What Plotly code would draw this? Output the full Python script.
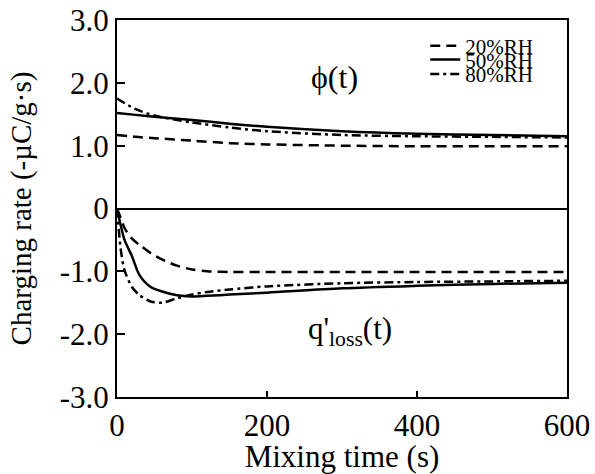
import plotly.graph_objects as go

# ---- data ----
t_phi = [0, 25, 50, 100, 150, 200, 300, 400, 500, 600]
phi_20 = [1.17, 1.14, 1.12, 1.08, 1.04, 1.02, 1.00, 0.99, 0.99, 0.99]
phi_50 = [1.52, 1.49, 1.46, 1.41, 1.35, 1.30, 1.23, 1.19, 1.17, 1.15]
phi_80 = [1.75, 1.58, 1.48, 1.37, 1.29, 1.23, 1.17, 1.15, 1.14, 1.13]

t_q = [0, 5, 10, 20, 30, 45, 60, 80, 100, 120, 150, 200, 300, 400, 500, 600]
q_20 = [0, -0.15, -0.31, -0.48, -0.58, -0.71, -0.81, -0.91, -0.97, -1.00, -1.01, -1.01, -1.01, -1.01, -1.01, -1.01]
q_50 = [0, -0.27, -0.50, -0.76, -1.06, -1.25, -1.32, -1.38, -1.40, -1.39, -1.37, -1.34, -1.27, -1.23, -1.20, -1.18]
q_80 = [0, -0.65, -0.98, -1.25, -1.38, -1.48, -1.50, -1.43, -1.37, -1.33, -1.29, -1.24, -1.19, -1.17, -1.16, -1.15]

series_names = ["20%RH", "50%RH", "80%RH"]
x_ticks = [0, 200, 400, 600]
x_ticktext = ["0", "200", "400", "600"]
y_ticks = [-3, -2, -1, 0, 1, 2, 3]
y_ticktext = ["-3.0", "-2.0", "-1.0", "0", "1.0", "2.0", "3.0"]

FONT = "Liberation Serif"
dashes = ["10px,6px", "solid", "9px,4px,3px,4px"]
legends = ["legend", "legend2", "legend3"]

fig = go.Figure()
phi_sets = [phi_20, phi_50, phi_80]
q_sets = [q_20, q_50, q_80]
for i, name in enumerate(series_names):
    fig.add_trace(go.Scatter(
        x=t_phi, y=phi_sets[i], mode="lines", name=name,
        line=dict(color="black", width=2.5, dash=dashes[i], shape="spline", smoothing=0.8),
        legend=legends[i], showlegend=True))
    fig.add_trace(go.Scatter(
        x=t_q, y=q_sets[i], mode="lines", name=name,
        line=dict(color="black", width=2.5, dash=dashes[i], shape="spline", smoothing=0.8),
        legend=legends[i], showlegend=False))

leg_common = dict(x=0.685, xanchor="left", yanchor="middle", bgcolor="rgba(0,0,0,0)",
                  font=dict(family=FONT, size=21, color="black"),
                  borderwidth=0, tracegroupgap=0, itemwidth=30)
fig.update_layout(
    width=595, height=474,
    margin=dict(l=117, r=28, t=20, b=77),
    plot_bgcolor="white", paper_bgcolor="white",
    font=dict(family=FONT, color="black"),
    legend=dict(y=0.931, **leg_common),
    legend2=dict(y=0.894, **leg_common),
    legend3=dict(y=0.856, **leg_common),
    xaxis=dict(range=[0, 600], tickvals=x_ticks, ticktext=x_ticktext,
               ticks="inside", ticklen=6, tickwidth=1.5, tickcolor="black",
               showline=True, linecolor="black", linewidth=2, mirror=True,
               showgrid=False, zeroline=False, automargin=False,
               tickfont=dict(family=FONT, size=31, color="black"),
               title=dict(text="\u00a0\u00a0\u00a0\u00a0Mixing time (s)",
                          font=dict(family=FONT, size=31, color="black"), standoff=0)),
    yaxis=dict(range=[-3, 3], tickvals=y_ticks, ticktext=y_ticktext,
               ticks="inside", ticklen=8, tickwidth=1.5, tickcolor="black",
               showline=True, linecolor="black", linewidth=2, mirror=True,
               showgrid=False, zeroline=True, zerolinecolor="black", zerolinewidth=1.5,
               automargin=False,
               tickfont=dict(family=FONT, size=31, color="black"),
               title=dict(text="Charging rate (-µC/g·s)", font=dict(family=FONT, size=29, color="black"), standoff=20)),
    annotations=[
        dict(x=290, y=2.1, xref="x", yref="y", text="ϕ(t)", showarrow=False,
             font=dict(family=FONT, size=32, color="black")),
        dict(x=311, y=-1.95, xref="x", yref="y", text="q'<sub>loss</sub>(t)", showarrow=False,
             font=dict(family=FONT, size=31, color="black")),
    ],
)

fig.write_html("out.html", config={"displayModeBar": False},
               post_script="document.body.style.margin='0';document.body.style.overflow='hidden';")
